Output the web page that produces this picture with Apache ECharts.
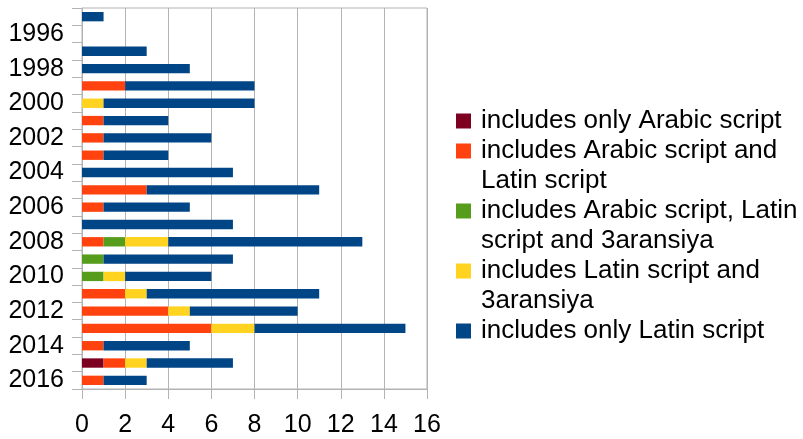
<!DOCTYPE html>
<html>
<head>
<meta charset="utf-8">
<script src="https://cdn.jsdelivr.net/npm/echarts@6/dist/echarts.min.js"></script>
<style>
html, body { margin: 0; padding: 0; background: #fff; }
#chart { width: 803px; height: 439px; }
</style>
</head>
<body>
<div id="chart"></div>
<script>
var years = ["1995","1996","1997","1998","1999","2000","2001","2002","2003","2004","2005",
             "2006","2007","2008","2009","2010","2011","2012","2013","2014","2015","2016"];
var arabicOnly      = [0,0,0,0,0,0,0,0,0,0,0,0,0,0,0,0,0,0,0,0,1,0];
var arabicLatin     = [0,0,0,0,2,0,1,1,1,0,3,1,0,1,0,0,2,4,6,1,1,1];
var arabicLatin3ar  = [0,0,0,0,0,0,0,0,0,0,0,0,0,1,1,1,0,0,0,0,0,0];
var latin3ar        = [0,0,0,0,0,1,0,0,0,0,0,0,0,2,0,1,1,1,2,0,1,0];
var latinOnly       = [1,0,3,5,6,7,3,5,3,7,8,4,7,9,6,4,8,5,7,4,4,2];

var names = [
    "includes only Arabic script",
    "includes Arabic script and\nLatin script",
    "includes Arabic script, Latin\nscript and 3aransiya",
    "includes Latin script and\n3aransiya",
    "includes only Latin script"
];
var colors = ["#7e0021", "#ff420e", "#579d1c", "#ffd320", "#004586"];
var values = [arabicOnly, arabicLatin, arabicLatin3ar, latin3ar, latinOnly];

var chart = echarts.init(document.getElementById("chart"));

// legend square drawn inline with the first text line
var rich = {
    gap: { width: 10, lineHeight: 30 },
    ind: { width: 25, lineHeight: 30 },
    t: { fontSize: 26, lineHeight: 30, color: "#000", fontFamily: "Liberation Sans" }
};
colors.forEach(function (c, i) {
    rich["sq" + i] = { width: 15, height: 15, backgroundColor: c, lineHeight: 30 };
});

var series = names.map(function (n, i) {
    return {
        name: n,
        type: "bar",
        stack: "all",
        barCategoryGap: "46%",
        itemStyle: { color: colors[i] },
        data: values[i]
    };
});

chart.setOption({
    backgroundColor: "#fff",
    animation: false,
    textStyle: { fontFamily: "Liberation Sans" },
    grid: {
        left: 82, right: 376, top: 8, bottom: 50,
        show: true, borderColor: "#b3b3b3", borderWidth: 1
    },
    legend: {
        orient: "vertical",
        left: 446,
        top: 101,
        itemGap: 0,
        itemWidth: 0,
        itemHeight: 0,
        selectedMode: false,
        data: names,
        formatter: function (name) {
            var i = names.indexOf(name);
            var lines = name.split("\n");
            var s = "{sq" + i + "|}{gap|}{t|" + lines[0] + "}";
            for (var k = 1; k < lines.length; k++) {
                s += "\n{ind|}{t|" + lines[k] + "}";
            }
            return s;
        },
        textStyle: { fontSize: 26, lineHeight: 30, color: "#000", rich: rich }
    },
    xAxis: {
        type: "value",
        min: 0, max: 16, interval: 2,
        axisLine: { show: true, lineStyle: { color: "#b3b3b3" } },
        axisTick: { show: true, length: 10, lineStyle: { color: "#b3b3b3" } },
        splitLine: { show: true, lineStyle: { color: "#b3b3b3" } },
        axisLabel: { fontSize: 25, color: "#000", margin: 24 }
    },
    yAxis: {
        type: "category",
        inverse: true,
        data: years,
        axisLine: { show: true, lineStyle: { color: "#b3b3b3" } },
        axisTick: { show: true, length: 10, interval: 0, lineStyle: { color: "#b3b3b3" } },
        axisLabel: {
            fontSize: 25, color: "#000", margin: 18, padding: [5, 0, 0, 0],
            interval: function (idx) { return idx % 2 === 1; }
        }
    },
    series: series
});

window.onresize = function () {
    chart.resize();
};
</script>
</body>
</html>
